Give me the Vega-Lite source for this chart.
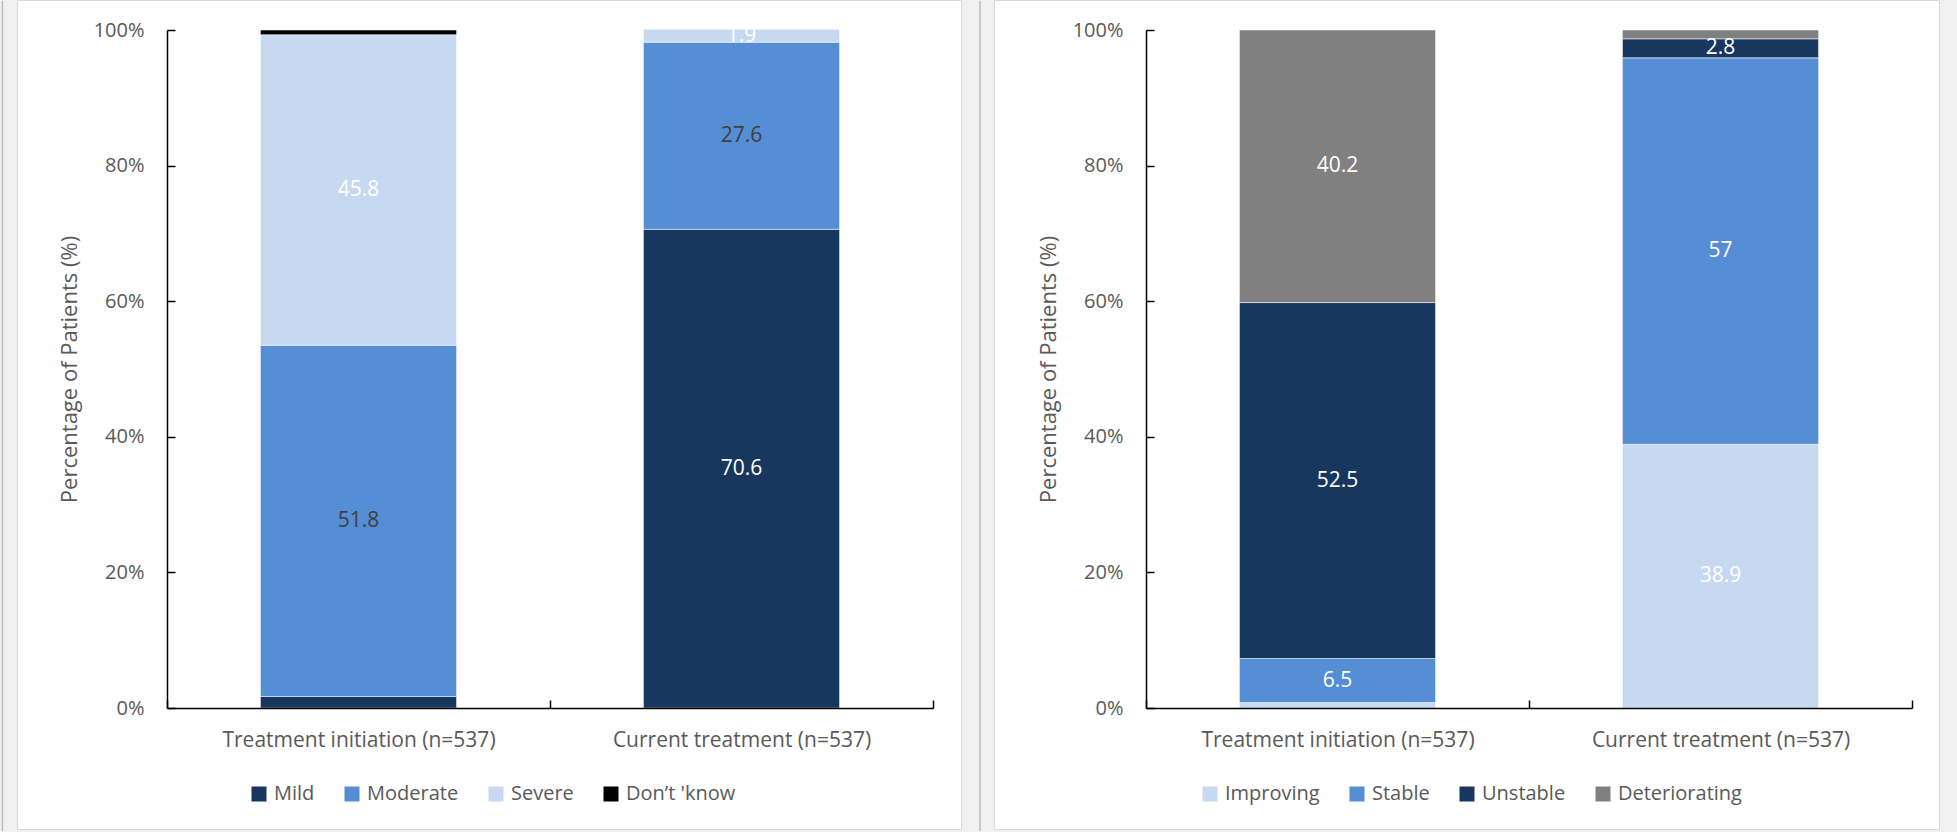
{
  "$schema": "https://vega.github.io/schema/vega-lite/v6.json",
  "background": "#f0f0f0",
  "padding": {"left": 1, "top": 0, "right": 0, "bottom": 0},
  "spacing": 12,
  "resolve": {"scale": {"color": "independent"}, "legend": {"color": "independent"}},
  "config": {
    "font": "Open Sans",
    "view": {"stroke": null},
    "axis": {
      "labelFont": "Open Sans",
      "labelFontSize": 20,
      "labelColor": "#595959",
      "titleFont": "Open Sans",
      "titleFontSize": 22,
      "titleFontWeight": "normal",
      "titleColor": "#595959",
      "domainColor": "#000000",
      "domainWidth": 1.5,
      "tickColor": "#000000",
      "tickWidth": 1.5,
      "grid": false
    },
    "legend": {
      "labelFont": "Open Sans",
      "labelFontSize": 20,
      "labelColor": "#595959",
      "symbolType": "square",
      "symbolSize": 225,
      "symbolStrokeWidth": 0,
      "labelOffset": 5,
      "columnPadding": 27,
      "padding": 0
    }
  },
  "datasets": {
    "severity": [
      {"group": "Treatment initiation (n=537)", "level": "Mild", "k": 1, "pct": 1.7, "annotated": false},
      {"group": "Treatment initiation (n=537)", "level": "Moderate", "k": 2, "pct": 51.8, "annotated": true},
      {"group": "Treatment initiation (n=537)", "level": "Severe", "k": 3, "pct": 45.8, "annotated": true},
      {"group": "Treatment initiation (n=537)", "level": "Don’t 'know", "k": 4, "pct": 0.7, "annotated": false},
      {"group": "Current treatment (n=537)", "level": "Mild", "k": 1, "pct": 70.6, "annotated": true},
      {"group": "Current treatment (n=537)", "level": "Moderate", "k": 2, "pct": 27.6, "annotated": true},
      {"group": "Current treatment (n=537)", "level": "Severe", "k": 3, "pct": 1.9, "annotated": true}
    ],
    "status": [
      {"group": "Treatment initiation (n=537)", "level": "Improving", "k": 1, "pct": 0.8, "annotated": false},
      {"group": "Treatment initiation (n=537)", "level": "Stable", "k": 2, "pct": 6.5, "annotated": true},
      {"group": "Treatment initiation (n=537)", "level": "Unstable", "k": 3, "pct": 52.5, "annotated": true},
      {"group": "Treatment initiation (n=537)", "level": "Deteriorating", "k": 4, "pct": 40.2, "annotated": true},
      {"group": "Current treatment (n=537)", "level": "Improving", "k": 1, "pct": 38.9, "annotated": true},
      {"group": "Current treatment (n=537)", "level": "Stable", "k": 2, "pct": 57, "annotated": true},
      {"group": "Current treatment (n=537)", "level": "Unstable", "k": 3, "pct": 2.8, "annotated": true},
      {"group": "Current treatment (n=537)", "level": "Deteriorating", "k": 4, "pct": 1.3, "annotated": false}
    ]
  },
  "hconcat": [
    {
      "width": 766,
      "height": 678,
      "data": {"name": "severity"},
      "resolve": {"scale": {"x": "independent", "y": "independent"}, "axis": {"x": "independent", "y": "independent"}},
      "layer": [
        {
          "data": {"values": [{"frame": "panel"}]},
          "layer": [
            {
              "mark": {"type": "rect", "fill": "#ffffff", "stroke": "#d9d9d9", "strokeWidth": 1},
              "encoding": {
                "x": {"datum": -0.1951, "type": "quantitative", "scale": {"domain": [0, 1], "nice": false, "zero": false}, "axis": null},
                "x2": {"datum": 1.0372},
                "y": {"datum": -0.1792, "type": "quantitative", "scale": {"domain": [0, 1], "nice": false, "zero": false}, "axis": null},
                "y2": {"datum": 1.0435}
              }
            },
            {
              "mark": {"type": "rule", "stroke": "#bcbcbc", "strokeWidth": 1.5},
              "encoding": {
                "x": {"datum": -0.2148, "type": "quantitative", "axis": null},
                "y": {"datum": -0.1818, "type": "quantitative", "axis": null},
                "y2": {"datum": 1.0431}
              }
            },
            {
              "mark": {"type": "rule", "stroke": "#bcbcbc", "strokeWidth": 1.5},
              "encoding": {
                "x": {"datum": 1.0614, "type": "quantitative", "axis": null},
                "y": {"datum": -0.1818, "type": "quantitative", "axis": null},
                "y2": {"datum": 1.0431}
              }
            }
          ]
        },
        {
          "transform": [
            {"stack": "pct", "groupby": ["group"], "sort": [{"field": "k", "order": "ascending"}], "as": ["lo", "hi"]},
            {"calculate": "(datum.lo + datum.hi) / 2", "as": "mid"}
          ],
          "layer": [
            {
              "mark": {"type": "bar", "width": {"band": 0.512}, "stroke": "#ffffff", "strokeWidth": 1, "strokeOpacity": 0.5},
              "encoding": {
                "x": {
                  "field": "group", "type": "nominal",
                  "sort": ["Treatment initiation (n=537)", "Current treatment (n=537)"],
                  "scale": {"paddingInner": 0, "paddingOuter": 0},
                  "axis": {"orient": "bottom", "title": null, "labelAngle": 0, "labelLimit": 0, "labelFontSize": 21, "tickBand": "extent", "tickSize": -8, "labelPadding": 29, "zindex": 2}
                },
                "y": {
                  "field": "lo", "type": "quantitative",
                  "scale": {"domain": [0, 100], "nice": false},
                  "axis": {"orient": "left", "title": "Percentage of Patients (%)", "values": [0, 20, 40, 60, 80, 100], "labelExpr": "datum.value + '%'", "tickSize": -8, "labelPadding": 31, "titlePadding": 12, "zindex": 2}
                },
                "y2": {"field": "hi"},
                "color": {
                  "field": "level", "type": "nominal",
                  "scale": {"domain": ["Mild", "Moderate", "Severe", "Don’t 'know"], "range": ["#17375E", "#558ED5", "#C6D9F1", "#000000"]},
                  "legend": {"title": null, "orient": "none", "direction": "horizontal", "legendX": 82, "legendY": 754, "zindex": 2}
                }
              }
            },
            {
              "transform": [{"filter": "datum.annotated"}],
              "mark": {"type": "text", "fontSize": 21, "align": "center", "baseline": "middle"},
              "encoding": {
                "x": {"field": "group", "type": "nominal", "sort": ["Treatment initiation (n=537)", "Current treatment (n=537)"]},
                "y": {"field": "mid", "type": "quantitative"},
                "text": {"field": "pct", "type": "quantitative"},
                "color": {"condition": {"test": "datum.level === 'Moderate'", "value": "#404040"}, "value": "#ffffff"}
              }
            }
          ]
        }
      ]
    },
    {
      "width": 766,
      "height": 678,
      "data": {"name": "status"},
      "resolve": {"scale": {"x": "independent", "y": "independent"}, "axis": {"x": "independent", "y": "independent"}},
      "layer": [
        {
          "data": {"values": [{"frame": "panel"}]},
          "layer": [
            {
              "mark": {"type": "rect", "fill": "#ffffff", "stroke": "#d9d9d9", "strokeWidth": 1},
              "encoding": {
                "x": {"datum": -0.1978, "type": "quantitative", "scale": {"domain": [0, 1], "nice": false, "zero": false}, "axis": null},
                "x2": {"datum": 1.0359},
                "y": {"datum": -0.1792, "type": "quantitative", "scale": {"domain": [0, 1], "nice": false, "zero": false}, "axis": null},
                "y2": {"datum": 1.0435}
              }
            },
            {
              "mark": {"type": "rule", "stroke": "#bcbcbc", "strokeWidth": 1.5},
              "encoding": {
                "x": {"datum": 1.0601, "type": "quantitative", "axis": null},
                "y": {"datum": -0.1818, "type": "quantitative", "axis": null},
                "y2": {"datum": 1.0431}
              }
            }
          ]
        },
        {
          "transform": [
            {"stack": "pct", "groupby": ["group"], "sort": [{"field": "k", "order": "ascending"}], "as": ["lo", "hi"]},
            {"calculate": "(datum.lo + datum.hi) / 2", "as": "mid"}
          ],
          "layer": [
            {
              "mark": {"type": "bar", "width": {"band": 0.512}, "stroke": "#ffffff", "strokeWidth": 1, "strokeOpacity": 0.5},
              "encoding": {
                "x": {
                  "field": "group", "type": "nominal",
                  "sort": ["Treatment initiation (n=537)", "Current treatment (n=537)"],
                  "scale": {"paddingInner": 0, "paddingOuter": 0},
                  "axis": {"orient": "bottom", "title": null, "labelAngle": 0, "labelLimit": 0, "labelFontSize": 21, "tickBand": "extent", "tickSize": -8, "labelPadding": 29, "zindex": 2}
                },
                "y": {
                  "field": "lo", "type": "quantitative",
                  "scale": {"domain": [0, 100], "nice": false},
                  "axis": {"orient": "left", "title": "Percentage of Patients (%)", "values": [0, 20, 40, 60, 80, 100], "labelExpr": "datum.value + '%'", "tickSize": -8, "labelPadding": 31, "titlePadding": 12, "zindex": 2}
                },
                "y2": {"field": "hi"},
                "color": {
                  "field": "level", "type": "nominal",
                  "scale": {"domain": ["Improving", "Stable", "Unstable", "Deteriorating"], "range": ["#C6D9F1", "#558ED5", "#17375E", "#808080"]},
                  "legend": {"title": null, "orient": "none", "direction": "horizontal", "legendX": 54, "legendY": 754, "zindex": 2}
                }
              }
            },
            {
              "transform": [{"filter": "datum.annotated"}],
              "mark": {"type": "text", "fontSize": 21, "align": "center", "baseline": "middle", "color": "#ffffff"},
              "encoding": {
                "x": {"field": "group", "type": "nominal", "sort": ["Treatment initiation (n=537)", "Current treatment (n=537)"]},
                "y": {"field": "mid", "type": "quantitative"},
                "text": {"field": "pct", "type": "quantitative"}
              }
            }
          ]
        }
      ]
    }
  ]
}
